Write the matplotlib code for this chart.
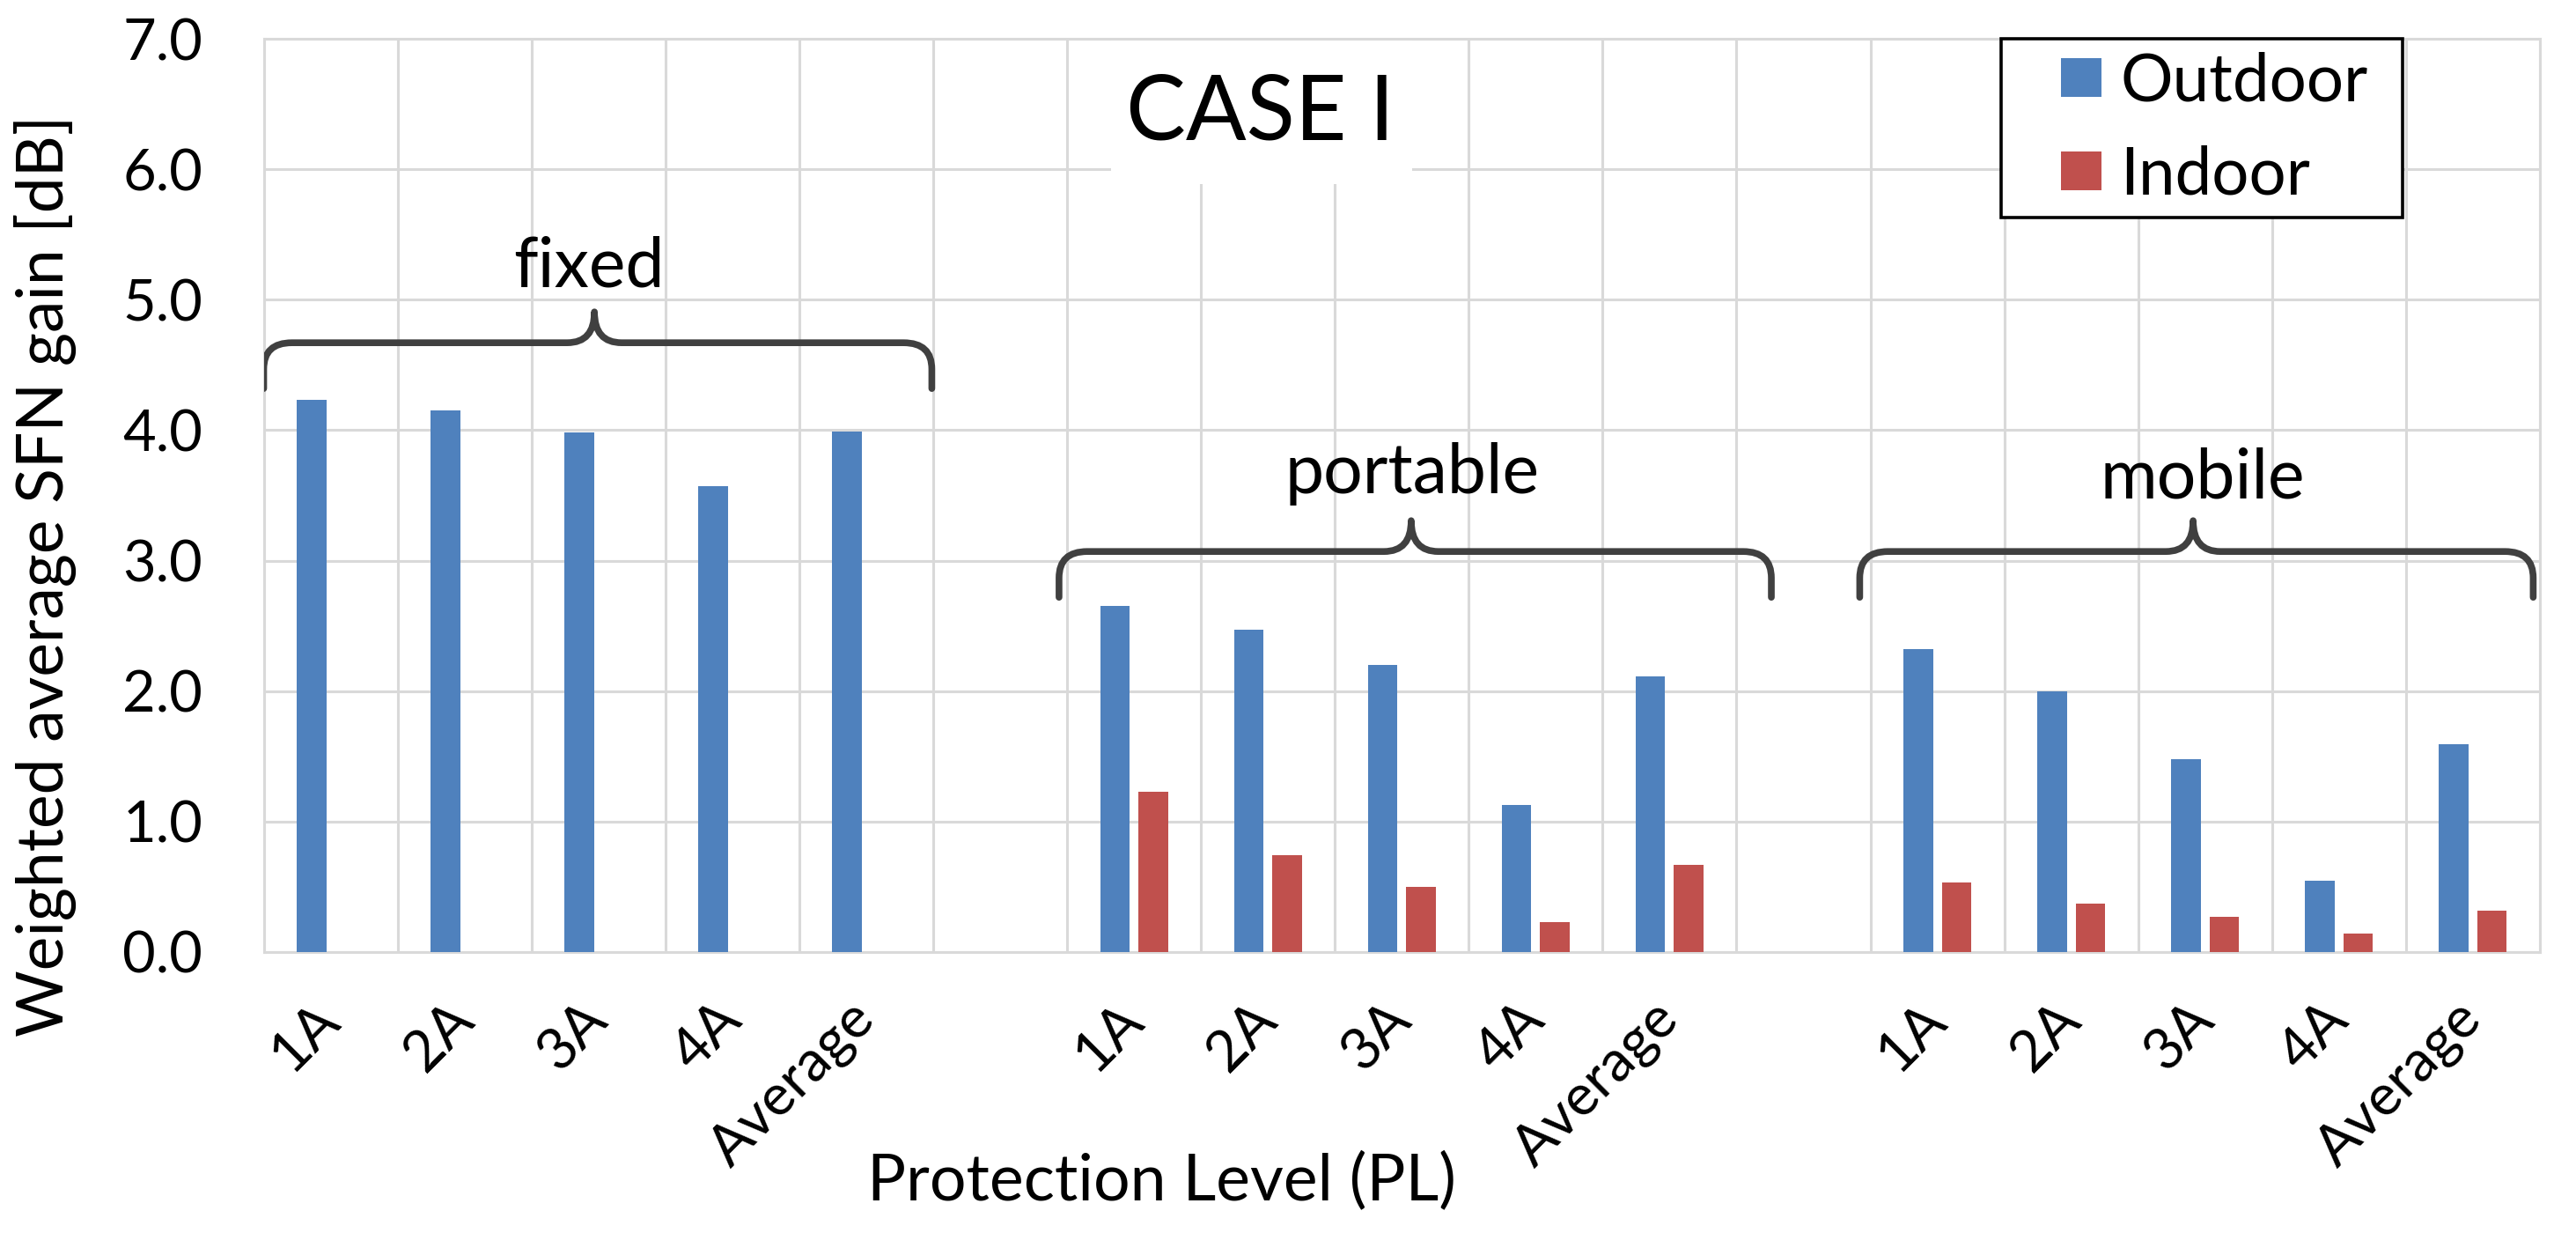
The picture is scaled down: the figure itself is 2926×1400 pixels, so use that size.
import numpy as np
import matplotlib
matplotlib.use("Agg")
import matplotlib.pyplot as plt
from matplotlib.patches import Rectangle, PathPatch
from matplotlib.path import Path
from matplotlib.container import BarContainer
from matplotlib.legend_handler import HandlerPatch, update_from_first_child

# ---------------- data ----------------
pl_levels = ["1A", "2A", "3A", "4A", "Average"]
group_names = ["fixed", "portable", "mobile"]

outdoor_fixed = [4.23, 4.15, 3.98, 3.57, 3.99]
indoor_fixed = [np.nan, np.nan, np.nan, np.nan, np.nan]
outdoor_portable = [2.65, 2.47, 2.20, 1.13, 2.11]
indoor_portable = [1.23, 0.74, 0.50, 0.23, 0.67]
outdoor_mobile = [2.32, 2.00, 1.48, 0.55, 1.59]
indoor_mobile = [0.53, 0.37, 0.27, 0.14, 0.32]

y_ticks = [0, 1, 2, 3, 4, 5, 6, 7]
series_names = ["Outdoor", "Indoor"]

# ---------------- layout ----------------
plt.rcParams["font.family"] = ["Lato", "DejaVu Sans"]
C_OUT = "#4F81BD"
C_IN = "#C0504D"
GRID = "#D9D9D9"
BRACE = "#404040"
DPI = 100

labels = pl_levels + [""] + pl_levels + [""] + pl_levels
outdoor = outdoor_fixed + [np.nan] + outdoor_portable + [np.nan] + outdoor_mobile
indoor = indoor_fixed + [np.nan] + indoor_portable + [np.nan] + indoor_mobile
x = np.arange(len(labels))

fig = plt.figure(figsize=(29.26, 14), dpi=DPI)
renderer = fig.canvas.get_renderer()

def fit_size(s, target_px, rotation=0, use_height=False, base=50.0):
    t = fig.text(0, 0, s, fontsize=base, rotation=rotation)
    bb = t.get_window_extent(renderer)
    t.remove()
    w = bb.height if use_height else bb.width
    return base * target_px / w

fs_tick = fit_size("7.0", 91)
fs_label = fit_size("Protection Level (PL)", 668)
fs_ylabel = fit_size("Weighted average SFN gain [dB]", 1047, rotation=90,
                     use_height=True)
fs_title = fit_size("CASE I", 305)
fs_group = fit_size("portable", 289)
fs_leg = fit_size("Outdoor", 281)

ax = fig.add_axes([0.10236, 0.22786, 0.88363, 0.74071])

bw = 0.22
off = 0.143
ax.bar(x - off, outdoor, width=bw, color=C_OUT, zorder=3, label=series_names[0])
ax.bar(x + off, indoor, width=bw, color=C_IN, zorder=3, label=series_names[1])

ax.set_xlim(-0.5, len(labels) - 0.5)
ax.set_ylim(0, 7)
ax.set_yticks(y_ticks)
ax.set_yticklabels([f"{v:.1f}" for v in y_ticks], fontsize=fs_tick)
ax.set_xticks(x)
ax.set_xticklabels(labels, fontsize=fs_tick, rotation=45, ha="right", va="center",
                   rotation_mode="anchor")
ax.set_xticks(np.arange(-0.5, len(labels), 1.0), minor=True)
ax.tick_params(axis="both", which="both", length=0)
ax.tick_params(axis="y", pad=50)
ax.tick_params(axis="x", pad=48)
ax.set_axisbelow(True)
ax.grid(axis="y", which="major", color=GRID, lw=2.2, zorder=0)
ax.grid(axis="x", which="minor", color=GRID, lw=2.2, zorder=0)
ax.grid(axis="x", which="major", visible=False)
for s in ax.spines.values():
    s.set_color(GRID)
    s.set_linewidth(2.2)
    s.set_zorder(0.5)

# white box behind the title covering the grid
ax.add_patch(Rectangle((5.83, 5.886), 8.08 - 5.83, 6.985 - 5.886,
                       facecolor="white", edgecolor="none", zorder=1))
ax.text(6.94, 6.42, "CASE I", fontsize=fs_title, ha="center", va="center", zorder=5)

# ---------------- braces ----------------
fig.canvas.draw()
inv = ax.transData.inverted()
p0 = inv.transform((0, 0))
def px(dx, dy):
    p = inv.transform((dx, dy)) - p0
    return p[0], p[1]

rx, ry = px(32, 30)
tw, th = px(31, 35)
_, drop = px(0, 52)

def brace(x0, x1, xt, yl):
    yb = yl - drop
    yt = yl + th
    verts = [(x0, yb), (x0, yl - ry), (x0, yl), (x0 + rx, yl),
             (xt - tw, yl), (xt, yl), (xt, yt),
             (xt, yl), (xt + tw, yl),
             (x1 - rx, yl), (x1, yl), (x1, yl - ry), (x1, yb)]
    codes = [Path.MOVETO, Path.LINETO, Path.CURVE3, Path.CURVE3,
             Path.LINETO, Path.CURVE3, Path.CURVE3,
             Path.CURVE3, Path.CURVE3,
             Path.LINETO, Path.CURVE3, Path.CURVE3, Path.LINETO]
    pp = PathPatch(Path(verts, codes), facecolor="none", edgecolor=BRACE,
                   lw=5.5, capstyle="round", joinstyle="round", zorder=6)
    ax.add_patch(pp)

brace_spans = [(-0.5, 4.49, 1.97, 4.67), (5.44, 10.76, 8.07, 3.07),
               (11.42, 16.45, 13.91, 3.07)]
label_pos = [(1.93, 5.10), (8.08, 3.52), (13.98, 3.48)]
for (x0, x1, xt, yl), name, (tx, ty) in zip(brace_spans, group_names, label_pos):
    brace(x0, x1, xt, yl)
    ax.text(tx, ty, name, fontsize=fs_group, ha="center", va="baseline", zorder=6)

# ---------------- legend ----------------
SQ_W, SQ_H = 46, 44   # px
def sq_patch(legend, orig_handle, xdescent, ydescent, width, height, fontsize):
    sw = SQ_W * 72.0 / DPI
    sh = SQ_H * 72.0 / DPI
    return Rectangle((-xdescent + width - sw, -ydescent + (height - sh) / 2),
                     sw, sh)

fpx = fs_leg * DPI / 72.0
sq_handler = HandlerPatch(patch_func=sq_patch, update_func=update_from_first_child)
leg = ax.legend(loc="upper left", bbox_to_anchor=(0.7633, 0.805, 0.1764, 0.195),
                mode="expand", borderaxespad=0, fontsize=fs_leg, frameon=True,
                fancybox=False, framealpha=1, edgecolor="black",
                borderpad=14 / fpx, labelspacing=(103 - 0.884 * fpx) / fpx,
                handlelength=100 / fpx, handleheight=SQ_H / fpx,
                handletextpad=21 / fpx,
                handler_map={BarContainer: sq_handler})
leg.get_frame().set_linewidth(2.6)
leg.set_zorder(7)

# ---------------- axis titles ----------------
fig.text(0.0246, 1 - 654 / 1400, "Weighted average SFN gain [dB]", rotation=90,
         rotation_mode="anchor", ha="center", va="baseline", fontsize=fs_ylabel)
fig.text(0.4511, 0.0264, "Protection Level (PL)", ha="center", va="baseline",
         fontsize=fs_label)

fig.savefig("out.png", dpi=DPI, facecolor="white")
